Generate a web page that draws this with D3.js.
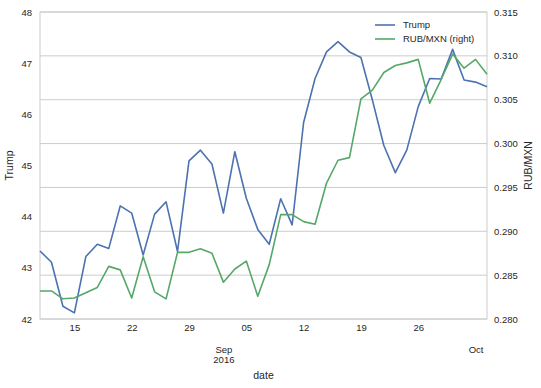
<!DOCTYPE html>
<html>
<head>
<meta charset="utf-8">
<script src="https://cdn.jsdelivr.net/npm/d3@7"></script>
<style>
body { margin: 0; background: #fff; }
text { font-family: "Liberation Sans", Arial, sans-serif; fill: #262626; }
</style>
</head>
<body>
<div id="chart"></div>
<script>
const WIDTH = 541, HEIGHT = 388;
const M = { top: 12, right: 54, bottom: 69, left: 40 };

// business days on the x axis
const dates = ["2016-08-10","2016-08-11","2016-08-12",
  "2016-08-15","2016-08-16","2016-08-17","2016-08-18","2016-08-19",
  "2016-08-22","2016-08-23","2016-08-24","2016-08-25","2016-08-26",
  "2016-08-29","2016-08-30","2016-08-31","2016-09-01","2016-09-02",
  "2016-09-05","2016-09-06","2016-09-07","2016-09-08","2016-09-09",
  "2016-09-12","2016-09-13","2016-09-14","2016-09-15","2016-09-16",
  "2016-09-19","2016-09-20","2016-09-21","2016-09-22","2016-09-23",
  "2016-09-26","2016-09-27","2016-09-28","2016-09-29","2016-09-30",
  "2016-10-03","2016-10-04"];
const trump = [43.33,43.11,42.25,42.12,43.22,43.46,43.38,44.21,44.07,43.25,
  44.05,44.29,43.32,45.09,45.30,45.03,44.07,45.27,44.36,43.75,
  43.46,44.35,43.84,45.84,46.70,47.22,47.42,47.22,47.11,46.28,
  45.39,44.86,45.30,46.15,46.70,46.69,47.27,46.67,46.63,46.54];
const rubmxn = [0.2832,0.2832,0.2823,0.2824,0.2830,0.2836,0.2860,0.2856,0.2824,0.2871,
  0.2831,0.2823,0.2876,0.2876,0.2880,0.2875,0.2842,0.2857,0.2866,0.2826,
  0.2862,0.2919,0.2919,0.2911,0.2908,0.2955,0.2981,0.2984,0.3051,0.3061,
  0.3081,0.3089,0.3092,0.3096,0.3046,0.3073,0.3102,0.3086,0.3096,0.3079];
const leftTicks = [42,43,44,45,46,47,48];
const rightTicks = [0.280,0.285,0.290,0.295,0.300,0.305,0.310,0.315];
const dayTicks = ["2016-08-15","2016-08-22","2016-08-29","2016-09-05","2016-09-12","2016-09-19","2016-09-26"];
const monthTicks = ["2016-09-01","2016-10-03"];
const monthLabels = ["Sep|2016","Oct"];
const series = [
  { name: "Trump", values: trump, color: "#4C72B0", axis: "left" },
  { name: "RUB/MXN (right)", values: rubmxn, color: "#55A868", axis: "right" }
];

const w = WIDTH - M.left - M.right, h = HEIGHT - M.top - M.bottom;
const svg = d3.select("#chart").append("svg")
  .attr("width", WIDTH).attr("height", HEIGHT);
const g = svg.append("g").attr("transform", `translate(${M.left},${M.top})`);

const x = d3.scalePoint().domain(dates).range([0, w]);
const yL = d3.scaleLinear().domain([42, 48]).range([h, 0]);
const yR = d3.scaleLinear().domain([0.280, 0.315]).range([h, 0]);

// grid follows the right axis
g.append("g").selectAll("line").data(rightTicks).join("line")
  .attr("x1", 0).attr("x2", w)
  .attr("y1", d => yR(d)).attr("y2", d => yR(d))
  .attr("stroke", "#cccccc").attr("stroke-width", 1);
g.append("rect").attr("width", w).attr("height", h)
  .attr("fill", "none").attr("stroke", "#cccccc").attr("stroke-width", 1);

function styleAxis(sel) {
  sel.select(".domain").remove();
  sel.selectAll(".tick line").remove();
  sel.selectAll("text").attr("font-size", 9.5).attr("fill", "#262626");
}

g.append("g").call(d3.axisLeft(yL).tickValues(leftTicks).tickSize(0).tickPadding(8).tickFormat(d3.format("d")))
  .call(styleAxis);
g.append("g").attr("transform", `translate(${w},0)`)
  .call(d3.axisRight(yR).tickValues(rightTicks).tickSize(0).tickPadding(7).tickFormat(d3.format(".3f")))
  .call(styleAxis);

const parse = d3.timeParse("%Y-%m-%d");
g.append("g").attr("transform", `translate(0,${h})`)
  .call(d3.axisBottom(x).tickValues(dayTicks).tickSize(0).tickPadding(5)
    .tickFormat(d => d3.timeFormat("%d")(parse(d))))
  .call(styleAxis);

const month = g.append("g").attr("transform", `translate(0,${h})`)
  .call(d3.axisBottom(x).tickValues(monthTicks).tickSize(0).tickFormat(""))
  .call(styleAxis);
month.selectAll(".tick text").attr("y", 34).attr("dy", null).each(function(d, i) {
  const parts = monthLabels[i].split("|");
  d3.select(this).selectAll("tspan").data(parts).join("tspan")
    .attr("x", 0).attr("dy", (p, j) => j ? "1.1em" : 0).text(p => p);
});

const line = s => d3.line()
  .x((d, i) => x(dates[i]))
  .y(d => s.axis === "left" ? yL(d) : yR(d));

series.forEach(s => {
  g.append("path").datum(s.values)
    .attr("fill", "none").attr("stroke", s.color).attr("stroke-width", 1.6)
    .attr("stroke-linejoin", "round")
    .attr("d", line(s));
});

// axis labels
g.append("text").attr("transform", `translate(-27,${h / 2}) rotate(-90)`)
  .attr("text-anchor", "middle").attr("font-size", 10.5).text("Trump");
g.append("text").attr("transform", `translate(${w + 45},${h / 2}) rotate(-90)`)
  .attr("text-anchor", "middle").attr("font-size", 10.5).text("RUB/MXN");
g.append("text").attr("x", w / 2).attr("y", h + 60)
  .attr("text-anchor", "middle").attr("font-size", 10.5).text("date");

// legend
const legend = g.append("g").attr("transform", `translate(${w - 112},13)`);
series.forEach((s, i) => {
  const row = legend.append("g").attr("transform", `translate(0,${i * 14})`);
  row.append("line").attr("x1", 0).attr("x2", 20)
    .attr("stroke", s.color).attr("stroke-width", 1.6);
  row.append("text").attr("x", 28).attr("dy", "0.35em")
    .attr("font-size", 9.5).text(s.name);
});
</script>
</body>
</html>
